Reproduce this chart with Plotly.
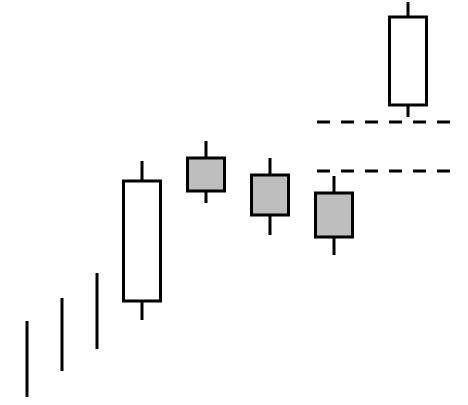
import plotly.graph_objects as go

# valeurs (axe y : 0 en bas, 405 en haut)
# traits simples à gauche
trait_x = [27, 62, 97]
trait_haut = [84, 107, 132]
trait_bas = [8, 34, 56]

# bougies
bougie_x = [142, 206, 270, 334, 408]
corps_haut = [224, 247, 230, 212, 388]
corps_bas = [104, 214, 190, 168, 300]
meche_haut = [244, 264, 247, 229, 403]
meche_bas = [85, 202, 170, 150, 288]
couleurs = ['white', '#bdbdbd', '#bdbdbd', '#bdbdbd', 'white']

# niveaux en pointillés
niveaux = [283, 234]
niveau_debut = 317
niveau_fin = 454

fig = go.Figure()

# traits verticaux
xs, ys = [], []
for x, h, b in zip(trait_x, trait_haut, trait_bas):
    xs += [x, x, None]
    ys += [b, h, None]
fig.add_trace(go.Scatter(x=xs, y=ys, mode='lines', line=dict(color='black', width=3),
                         hoverinfo='skip', showlegend=False))

# mèches (au-dessus et au-dessous du corps)
xs, ys = [], []
for x, ch, cb, mh, mb in zip(bougie_x, corps_haut, corps_bas, meche_haut, meche_bas):
    xs += [x, x, None, x, x, None]
    ys += [ch, mh, None, cb, mb, None]
fig.add_trace(go.Scatter(x=xs, y=ys, mode='lines', line=dict(color='black', width=3),
                         hoverinfo='skip', showlegend=False))

# corps des bougies
fig.add_trace(go.Bar(x=bougie_x,
                     y=[h - b for h, b in zip(corps_haut, corps_bas)],
                     base=corps_bas,
                     width=37,
                     marker=dict(color=couleurs, line=dict(color='black', width=3)),
                     hoverinfo='skip', showlegend=False))

# lignes horizontales en pointillés
for n in niveaux:
    fig.add_trace(go.Scatter(x=[niveau_debut, niveau_fin], y=[n, n], mode='lines',
                             line=dict(color='black', width=3, dash='13px,11px'),
                             hoverinfo='skip', showlegend=False))

fig.update_xaxes(range=[0, 468], visible=False)
fig.update_yaxes(range=[0, 405], visible=False)
fig.update_layout(width=468, height=405, margin=dict(l=0, r=0, t=0, b=0),
                  paper_bgcolor='white', plot_bgcolor='white')

# enlever la marge de 8 px de la page
fig.write_html("out.html", config={'displayModeBar': False},
               post_script="document.body.style.margin='0';")
